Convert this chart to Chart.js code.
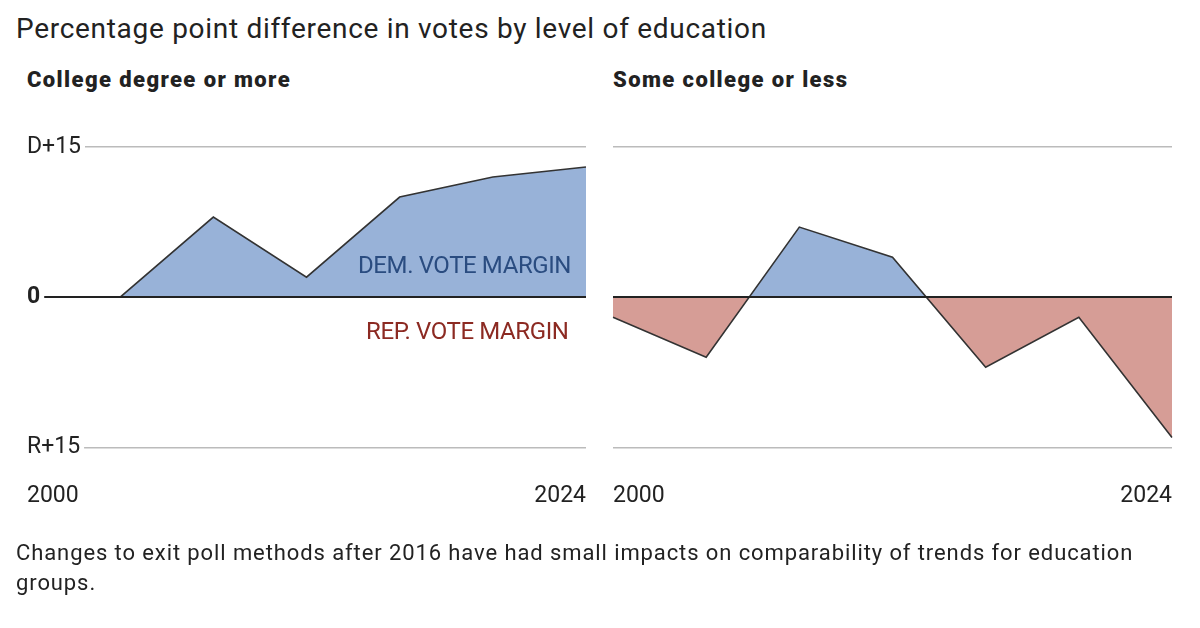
<!DOCTYPE html>
<html lang="en">

<head>
  <meta charset="UTF-8">
  <title> Vote margin by education </title>
  <style>
    body { margin: 0; width: 1200px; height: 628px; background: #fff; position: relative; overflow: hidden;
      font-family: "Roboto", sans-serif; color: #222; }
    .txt { position: absolute; white-space: nowrap; }
    #titulo { left: 16px; top: 12px; font-size: 28px; letter-spacing: 0.7px; }
    .painel { font-weight: 900; font-size: 22px; top: 67px; letter-spacing: 1.4px; }
    #nota { left: 16px; top: 538px; font-size: 22px; line-height: 30px; white-space: normal; width: 1160px; letter-spacing: 0.9px; }
    .rotulo { font-size: 24px; letter-spacing: -0.4px; }
    .caixa { position: absolute; top: 120px; width: 613px; height: 433px; }
  </style>
</head>

<body>
  <div class="txt" id="titulo">Percentage point difference in votes by level of education</div>
  <div class="txt painel" style="left:27px">College degree or more</div>
  <div class="txt painel" style="left:613px">Some college or less</div>

  <div class="caixa" style="left:0px"><canvas id="graficoCollege"></canvas></div>
  <div class="caixa" style="left:586px"><canvas id="graficoSome"></canvas></div>

  <div class="txt rotulo" style="left:358px; top:251px; color:#2a4c80">DEM. VOTE MARGIN</div>
  <div class="txt rotulo" style="left:366px; top:317px; color:#8c2a22">REP. VOTE MARGIN</div>

  <div class="txt" id="nota">Changes to exit poll methods after 2016 have had small impacts on comparability of trends for education groups.</div>

  <script src="https://cdn.jsdelivr.net/npm/chart.js"></script>
</body>

</html>

<script>

  // anos de eleicao
  const anos = ['2000', '2004', '2008', '2012', '2016', '2020', '2024']
  // margem em pontos (positivo = democrata, negativo = republicano)
  const margemCollege = [0, 0, 8, 2, 10, 12, 13]
  const margemSome = [-2, -6, 7, 4, -7, -2, -14]
  // ticks do eixo y
  const ticksValores = [-15, 0, 15]
  const ticksTextos = ['R+15', '0', 'D+15']

  const azul = '#98b2d8'
  const vermelho = '#d69d96'
  const fonte = 'Roboto, sans-serif'

  function criarGrafico(id, dados, mostrarY) {
    new Chart(document.getElementById(id), {
      type: 'line',
      data: {
        labels: anos,
        datasets: [{
          data: dados,
          borderColor: '#333',
          borderWidth: 1.6,
          pointRadius: 0,
          tension: 0,
          fill: { target: 'origin', above: azul, below: vermelho },
        }]
      },
      options: {
        responsive: true,
        maintainAspectRatio: false,
        animation: false,
        layout: { padding: { left: 0, right: 0, top: 27, bottom: 16 } },
        plugins: { legend: { display: false }, tooltip: { enabled: false } },
        scales: {
          x: {
            grid: { display: false },
            border: { display: false },
            ticks: {
              autoSkip: false,
              maxRotation: 0,
              align: 'inner',
              padding: 27,
              color: '#222',
              font: { size: 23, family: fonte },
              callback: function (v, i) {
                return (i === 0 || i === anos.length - 1) ? anos[i] : ''
              }
            }
          },
          y: {
            min: -15,
            max: 15,
            border: { display: false },
            grid: {
              z: 1,
              drawTicks: false,
              color: (ctx) => ctx.tick && ctx.tick.value === 0 ? '#222' : '#bbb',
              lineWidth: (ctx) => ctx.tick && ctx.tick.value === 0 ? 2 : 1.5,
            },
            ticks: {
              display: mostrarY,
              z: 1,
              mirror: true,
              padding: 0,
              stepSize: 15,
              showLabelBackdrop: true,
              backdropColor: '#fff',
              backdropPadding: { left: 0, right: 4, top: 2, bottom: 2 },
              color: '#222',
              font: (ctx) => ({
                size: 23,
                family: fonte,
                weight: ctx.tick && ctx.tick.value === 0 ? 'bold' : 'normal'
              }),
              callback: function (v) {
                const i = ticksValores.indexOf(v)
                return i >= 0 ? ticksTextos[i] : ''
              }
            }
          }
        }
      }
    });
  }

  criarGrafico('graficoCollege', margemCollege, true)
  criarGrafico('graficoSome', margemSome, false)

</script>
